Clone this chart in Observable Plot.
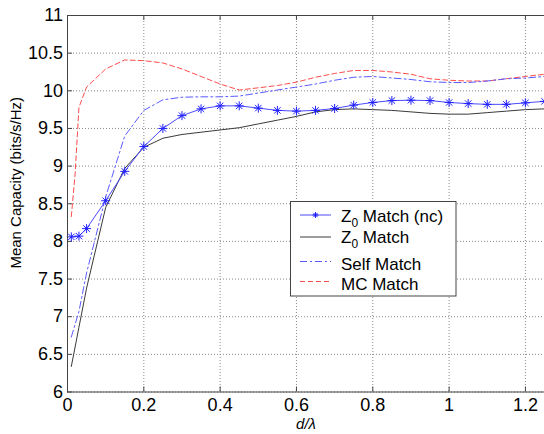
<!DOCTYPE html>
<html><head><meta charset="utf-8">
<script src="https://cdn.jsdelivr.net/npm/d3@7"></script>
<script src="https://cdn.jsdelivr.net/npm/@observablehq/plot@0.6"></script>
<style>
body{margin:0;background:#fff}
#chart{position:relative;width:544px;height:434px}
#legend{position:absolute;left:0;top:0;pointer-events:none}
</style>
</head><body><div id="chart"></div>
<script>
// d/lambda sample positions
const d = [0.01, 0.03, 0.05, 0.1, 0.15, 0.2, 0.25, 0.3, 0.35, 0.4, 0.45, 0.5, 0.55, 0.6, 0.65, 0.7, 0.75, 0.8, 0.85, 0.9, 0.95, 1.0, 1.05, 1.1, 1.15, 1.2, 1.25];
const dMC = [0.01, 0.02, 0.03, 0.05, 0.1, 0.15, 0.2, 0.25, 0.3, 0.35, 0.4, 0.45, 0.5, 0.55, 0.6, 0.65, 0.7, 0.75, 0.8, 0.85, 0.9, 0.95, 1.0, 1.05, 1.1, 1.15, 1.2, 1.25];
// series
const z0MatchNC = [8.06, 8.07, 8.17, 8.54, 8.93, 9.26, 9.50, 9.67, 9.76, 9.80, 9.80, 9.77, 9.74, 9.73, 9.74, 9.765, 9.81, 9.845, 9.87, 9.875, 9.87, 9.845, 9.83, 9.82, 9.82, 9.84, 9.86];
const z0Match = [6.34, 6.86, 7.38, 8.45, 8.97, 9.25, 9.37, 9.42, 9.45, 9.48, 9.51, 9.56, 9.61, 9.66, 9.72, 9.75, 9.76, 9.75, 9.74, 9.72, 9.70, 9.69, 9.69, 9.71, 9.73, 9.75, 9.76];
const selfMatch = [6.73, 7.07, 7.58, 8.59, 9.40, 9.74, 9.88, 9.915, 9.92, 9.92, 9.93, 9.97, 10.01, 10.05, 10.09, 10.14, 10.18, 10.19, 10.17, 10.15, 10.12, 10.11, 10.11, 10.13, 10.16, 10.17, 10.19];
const mcMatch = [8.33, 8.9, 9.78, 10.05, 10.29, 10.41, 10.40, 10.37, 10.29, 10.19, 10.09, 10.01, 10.04, 10.07, 10.115, 10.18, 10.23, 10.27, 10.27, 10.25, 10.22, 10.16, 10.14, 10.13, 10.13, 10.16, 10.19, 10.22];
// ticks
const xTicks = [0, 0.2, 0.4, 0.6, 0.8, 1, 1.2];
const xTickLabels = ["0", "0.2", "0.4", "0.6", "0.8", "1", "1.2"];
const yTicks = [6, 6.5, 7, 7.5, 8, 8.5, 9, 9.5, 10, 10.5, 11];
const yTickLabels = ["6", "6.5", "7", "7.5", "8", "8.5", "9", "9.5", "10", "10.5", "11"];
const xLabel = "d/λ";
const yLabel = "Mean Capacity (bits/s/Hz)";
const legendNames = ["Match (nc)", "Match", "Self Match", "MC Match"];

const colNC = "#4b4bff", colMarker = "#1f1fff", colZ0 = "#3a3a3a", colSelf = "#5a5aff", colMC = "#ff4d4d";

const nc = d.map((x, i) => ({x, y: z0MatchNC[i]}));
const z0 = d.map((x, i) => ({x, y: z0Match[i]}));
const sm = d.map((x, i) => ({x, y: selfMatch[i]}));
const mc = dMC.map((x, i) => ({x, y: mcMatch[i]}));

const font = "'Liberation Sans', Arial, Helvetica, sans-serif";

const chart = Plot.plot({
  width: 544, height: 434,
  marginLeft: 67, marginRight: 0, marginTop: 15, marginBottom: 42.5,
  style: {fontFamily: font, fontSize: "18px", background: "#fff", color: "#000", overflow: "visible"},
  x: {domain: [0, 1.25]},
  y: {domain: [6, 11]},
  marks: [
    Plot.gridX(xTicks, {stroke: "#8a8a8a", strokeOpacity: 1, strokeDasharray: "1,2"}),
    Plot.gridY(yTicks, {stroke: "#8a8a8a", strokeOpacity: 1, strokeDasharray: "1,2"}),
    Plot.ruleX(xTicks, {y1: 6, y2: 6.066, stroke: "#444"}),
    Plot.ruleX(xTicks, {y1: 10.934, y2: 11, stroke: "#444"}),
    Plot.ruleY(yTicks, {x1: 0, x2: 0.013, stroke: "#444"}),
    Plot.line(mc, {x: "x", y: "y", stroke: colMC, strokeWidth: 1, strokeDasharray: "5,3"}),
    Plot.line(sm, {x: "x", y: "y", stroke: colSelf, strokeWidth: 1, strokeDasharray: "7,3,2,3"}),
    Plot.line(z0, {x: "x", y: "y", stroke: colZ0, strokeWidth: 1}),
    Plot.line(nc, {x: "x", y: "y", stroke: colNC, strokeWidth: 1}),
    Plot.dot(nc, {x: "x", y: "y", symbol: "plus", r: 3, stroke: colMarker, strokeWidth: 1}),
    Plot.dot(nc, {x: "x", y: "y", symbol: "times", r: 3, stroke: colMarker, strokeWidth: 1}),
    Plot.frame({stroke: "#444"}),
    Plot.axisX(xTicks, {tickSize: 0, tickPadding: 6, tickFormat: (v, i) => xTickLabels[i], label: null, fontSize: 18}),
    Plot.axisY(yTicks, {tickSize: 0, tickPadding: 4.5, tickFormat: (v, i) => yTickLabels[i], label: null, fontSize: 18}),
    Plot.text([xLabel], {frameAnchor: "bottom", dy: 37, lineAnchor: "bottom", fontStyle: "italic", fontSize: 15}),
    Plot.text([yLabel], {frameAnchor: "left", textAnchor: "middle", dx: -51, dy: -21, rotate: -90, fontSize: 15})
  ]
});
const host = document.getElementById("chart");
host.appendChild(chart);

// legend box (separate overlay svg)
const lsvg = d3.select(host).append("svg").attr("id", "legend").attr("width", 544).attr("height", 434);
const lg = lsvg.append("g").attr("font-family", font).attr("font-size", 17).attr("text-anchor", "start");
lg.append("rect").attr("x", 290.5).attr("y", 201.5).attr("width", 165.5).attr("height", 94.5)
  .attr("fill", "#ffffff").attr("stroke", "#444444").attr("stroke-width", 1);
const rows = [
  {ly: 215, ty: 221.5, stroke: colNC, dash: null, marker: true, sub: true},
  {ly: 237, ty: 243.3, stroke: colZ0, dash: null, marker: false, sub: true},
  {ly: 261.5, ty: 269.5, stroke: colSelf, dash: "7,3,2,3", marker: false, sub: false},
  {ly: 281.5, ty: 289.5, stroke: colMC, dash: "5,3", marker: false, sub: false}
];
rows.forEach((r, i) => {
  const ln = lg.append("line").attr("x1", 300).attr("x2", 331).attr("y1", r.ly).attr("y2", r.ly)
    .attr("stroke", r.stroke).attr("stroke-width", 1);
  if (r.dash) ln.attr("stroke-dasharray", r.dash);
  if (r.marker) {
    lg.append("path").attr("d", "M315.5,212v6M312.5,215h6M313.4,212.9l4.2,4.2M317.6,212.9l-4.2,4.2")
      .attr("stroke", colMarker).attr("fill", "none");
  }
  const t = lg.append("text").attr("x", 341).attr("y", r.ty).attr("fill", "#000");
  if (r.sub) {
    t.append("tspan").text("Z");
    t.append("tspan").attr("font-size", 12).attr("dy", 5).text("0");
    t.append("tspan").attr("dy", -5).text(" " + legendNames[i]);
  } else {
    t.text(legendNames[i]);
  }
});
</script>
</body></html>
